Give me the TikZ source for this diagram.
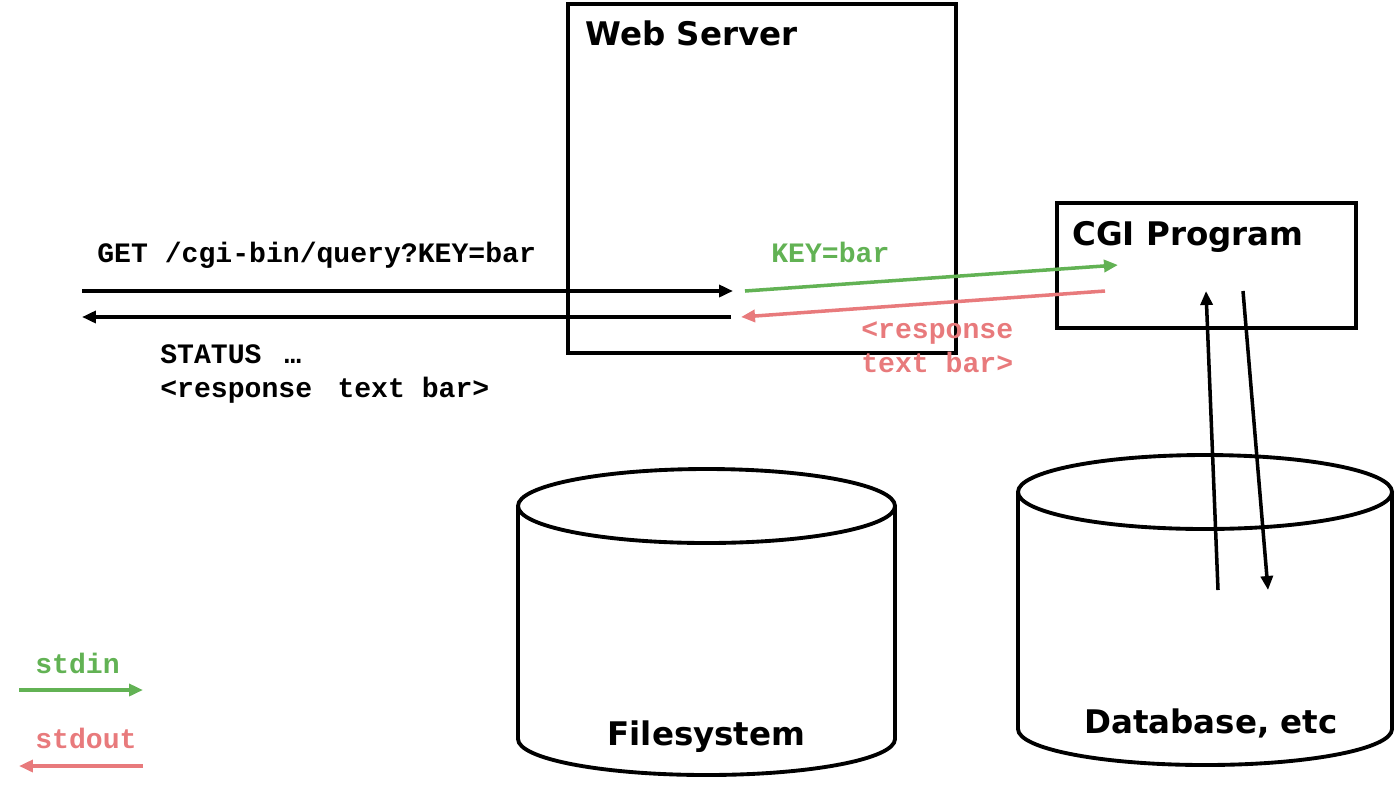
\documentclass[tikz,border=0pt]{standalone}
\usepackage{fontspec}
\setmainfont{DejaVu Sans}
\newfontfamily\codefont{Liberation Mono}
\usetikzlibrary{arrows.meta}

\definecolor{stdingreen}{RGB}{98,178,84}
\definecolor{stdoutred}{RGB}{232,122,124}

\begin{document}
\begin{tikzpicture}[x=0.02cm,y=-0.02cm,
    box/.style={draw, line width=2.3pt, inner sep=0pt},
    title/.style={inner sep=0pt, anchor=base west, font=\fontsize{18.5}{22}\selectfont\bfseries},
    code/.style={inner sep=0pt, anchor=base west, font=\fontsize{16}{19}\selectfont\codefont\bfseries},
    flow/.style={line width=2pt, -{Triangle[length=0.28cm,width=0.24cm]}},
    instream/.style={flow, draw=stdingreen, -{Triangle[length=0.28cm,width=0.24cm,fill=stdingreen]}},
    outstream/.style={flow, draw=stdoutred, -{Triangle[length=0.28cm,width=0.24cm,fill=stdoutred]}}]

    % 全体の大きさ
    \useasboundingbox (0,0) rectangle (1395,785);

    % 箱の描画
    \node [box, minimum width=7.76cm, minimum height=6.98cm] (web) at (762,178.5) {};
    \node [box, minimum width=5.98cm, minimum height=2.5cm] (cgi) at (1206.5,265.5) {};
    \node [title] (webtitle) at (585,45) {Web Server};
    \node [title] (cgititle) at (1072,245) {CGI Program};

    % 点の定義
    \coordinate (getS) at (82,291);
    \coordinate (getE) at (733,291);
    \coordinate (resS) at (731,317);
    \coordinate (resE) at (82,317);
    \coordinate (inS) at (745,291);
    \coordinate (inE) at (1118,265);
    \coordinate (outS) at (1105,291);
    \coordinate (outE) at (741,317);
    \coordinate (upS) at (1218,590);
    \coordinate (upE) at (1206,291);
    \coordinate (downS) at (1243,291);
    \coordinate (downE) at (1268,590);

    % 文字の描画
    \node [code] (get) at (97,262) {GET /cgi-bin/query?KEY=bar};
    \node [code] (status) at (160,363) {STATUS\hspace{0.12cm} …};
    \node [code] (resp) at (160,397) {<response\hspace{0.17cm} text bar>};
    \node [code, text=stdingreen] (key) at (771,262) {KEY=bar};
    \node [code, text=stdoutred] (resp1) at (861,338) {<response};
    \node [code, text=stdoutred] (resp2) at (861,372) {text bar>};

    % 矢印の描画
    \draw [flow] (getS) -- (getE);
    \draw [flow] (resS) -- (resE);
    \draw [instream] (inS) -- (inE);
    \draw [outstream] (outS) -- (outE);
    \draw [flow] (upS) -- (upE);
    \draw [flow] (downS) -- (downE);

    % 円柱の描画
    \draw [line width=2.2pt] (518,506) -- (518,739) arc [start angle=180, end angle=0, x radius=188.5, y radius=36] -- (895,506);
    \draw [line width=2.2pt] (706.5,506) ellipse [x radius=188.5, y radius=37];
    \node [title, anchor=base] (fs) at (706.5,745) {Filesystem};
    \draw [line width=2.2pt] (1018,492) -- (1018,729) arc [start angle=180, end angle=0, x radius=187, y radius=36] -- (1392,492);
    \draw [line width=2.2pt] (1205,492) ellipse [x radius=187, y radius=37];
    \node [title, anchor=base] (db) at (1211,733) {Database, etc};

    % 凡例の描画
    \coordinate (stdinS) at (19,690);
    \coordinate (stdinE) at (143,690);
    \coordinate (stdoutS) at (143,766);
    \coordinate (stdoutE) at (19,766);
    \node [code, text=stdingreen] (stdin) at (35,673) {stdin};
    \node [code, text=stdoutred] (stdout) at (35,748) {stdout};
    \draw [instream] (stdinS) -- (stdinE);
    \draw [outstream] (stdoutS) -- (stdoutE);

\end{tikzpicture}
\end{document}
